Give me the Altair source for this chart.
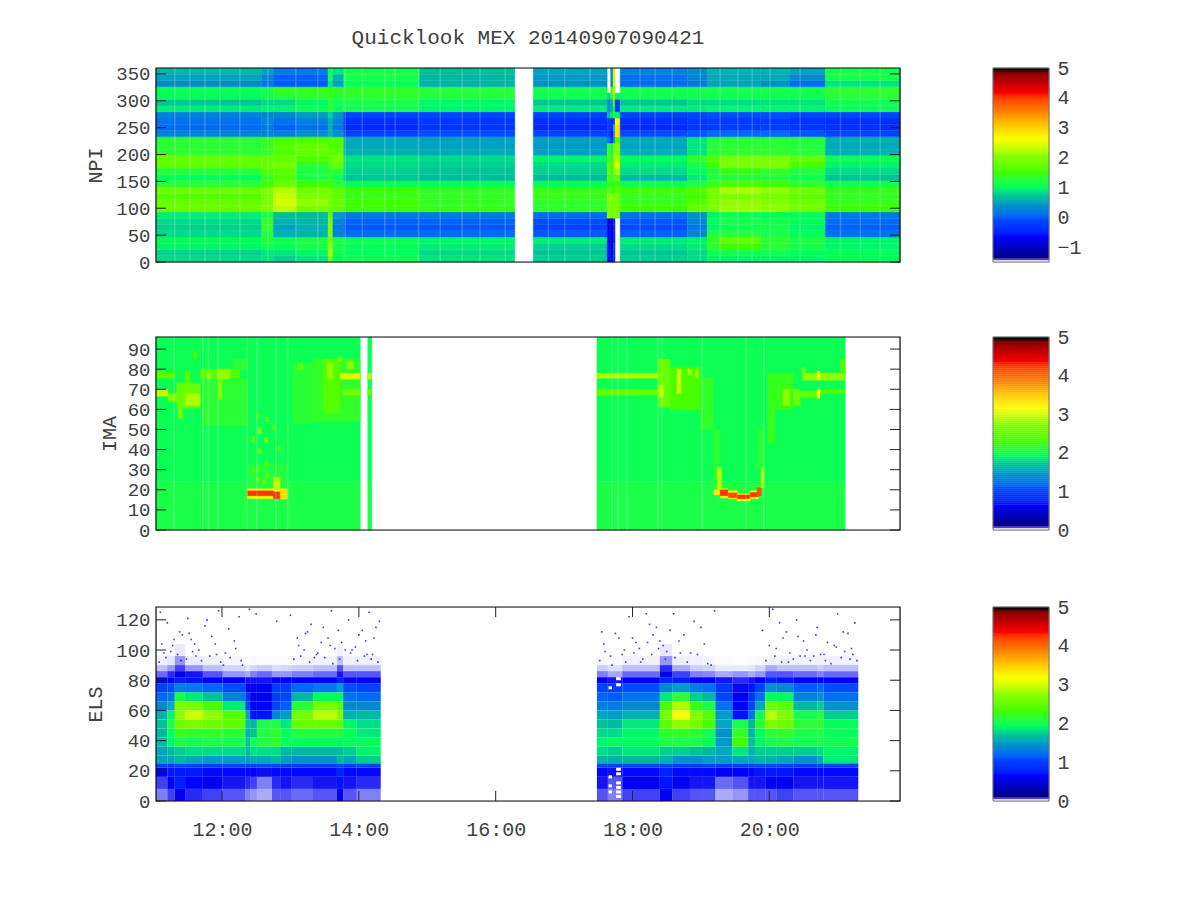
import altair as alt
import pandas as pd

FONT = "Liberation Mono"
TXT = "#404040"

# colour palette (fraction of the colour bar, colour)
pal_t = [0, .014, .016, .028, .13, .216, .285, .337, .388, .458, .543, .638, .716, .784, .87, .974, .984, .986, 1]
pal_c = ["#ffffff", "#ffffff", "#00008c", "#00008c", "#0000ff", "#0046ff", "#008cc8", "#00be96", "#00ff5a",
         "#3cff00", "#82ff00", "#ffff00", "#ffbe00", "#ff7800", "#ff0000", "#8c0000", "#600000", "#000000", "#000000"]

# ---------- NPI ----------
npi_edges = [0, 11.6, 23.3, 34.9, 46.6, 58.2, 69.9, 81.5, 93.2, 104.8, 116.5, 128.1, 139.7, 151.4, 163.0, 174.7,
             186.3, 198.0, 209.6, 221.3, 232.9, 244.5, 256.2, 267.8, 279.5, 291.1, 302.8, 314.4, 326.1, 337.7, 349.4, 361]
N = None
# each column: (start hour, end hour, values from the top row to the bottom row)
npi_cols = [
 (11.035, 12.58, [.65,.5,.35,1.1,1.05,.75,.95,.25,.15,.1,.3,1.3,1.3,1.35,1.75,1.7,1.3,1.05,1.3,1.8,1.6,1.75,1.8,.95,.85,.8,.85,1.05,1.0,.8,.85]),
 (12.58, 12.75, [.5,.3,.2,1.15,1.1,.85,1.0,.3,.3,.2,.3,1.4,1.4,1.4,1.75,1.8,1.6,1.4,1.5,1.95,1.9,1.95,2.0,1.2,1.4,1.4,1.2,1.3,1.1,.9,.9]),
 (12.75, 13.08, [.2,.05,.0,1.45,1.25,.85,1.0,.3,.15,.05,.3,1.55,1.65,1.6,1.75,1.9,1.7,1.6,1.8,2.25,2.35,2.4,2.3,.7,.6,.5,.6,1.1,1.05,.9,.8]),
 (13.08, 13.55, [.2,.05,.0,1.45,1.35,1.0,1.1,.45,.25,.15,.4,1.55,1.75,1.75,1.6,1.35,1.2,1.2,1.5,1.85,2.0,2.1,1.9,.7,.65,.6,.65,1.2,1.15,1.0,.9]),
 (13.55, 13.62, [1.1,1.1,.9,1.5,1.4,1.3,1.3,.8,.6,.6,.6,1.6,1.6,1.7,1.7,1.6,1.4,1.4,1.5,1.85,1.9,1.9,1.9,1.7,1.9,2.0,2.0,2.0,2.1,2.2,2.0]),
 (13.62, 13.78, [.9,.6,.5,1.4,1.3,1.1,1.1,.4,.3,.2,.4,1.6,1.6,1.7,1.9,1.8,1.3,1.1,1.3,1.7,1.7,1.75,1.75,.45,.3,.2,.3,1.2,1.15,1.1,1.05]),
 (13.78, 14.89, [1.15,1.15,1.05,1.4,1.35,1.15,1.15,-.15,-.35,-.4,-.1,.55,.55,.6,.9,.85,.8,.75,1.05,1.5,1.45,1.5,1.5,.2,.05,.0,.1,1.1,1.05,1.05,1.1]),
 (14.89, 16.28, [.7,.65,.6,1.3,1.25,1.0,1.0,-.1,-.25,-.3,-.05,.5,.5,.55,.85,.8,.75,.7,1.05,1.4,1.4,1.4,1.45,.2,.05,.0,.1,1.0,.95,.85,.9]),
 (16.55, 17.63, [.5,.45,.4,1.15,1.1,.75,.95,-.15,-.35,-.4,-.1,.5,.45,.5,1.0,.85,.8,.7,1.05,1.45,1.45,1.35,1.4,.1,-.05,-.1,0,.95,.8,.75,.8]),
 (17.63, 17.68, [N,N,N,N,.8,.4,.4,.7,-.2,-.2,-.1,.1,1.4,1.5,1.6,1.7,1.8,1.6,1.5,1.7,2.0,2.0,2.0,2.0,-.8,-.8,-.7,-.7,-.6,-.6,-.6]),
 (17.68, 17.715, [.3,.3,.3,1.6,1.1,.5,.5,.9,-.5,-.5,-.6,-.4,1.0,1.0,1.2,1.5,1.3,1.2,1.1,1.3,2.0,1.9,1.9,1.9,-.9,-.9,-.9,-.9,-.9,-.8,-.8]),
 (17.715, 17.745, [2.3,2.3,2.3,2.2,2.4,1.8,1.2,1.2,-.2,.6,.4,.4,2,2,2,2,2,1.8,1.5,1.6,2,2,2,2,-.4,-.4,-.4,-.4,-.2,-.2,-.2]),
 (17.745, 17.82, [N,N,N,N,1.0,-.3,-.3,1.0,2.7,2.9,2.9,1.6,2.0,2.0,2.3,2.5,2.2,1.7,1.5,1.6,1.9,1.9,1.9,1.9,N,N,N,N,N,N,N]),
 (17.82, 18.80, [.25,.15,.1,1.15,1.1,.75,.95,-.15,-.35,-.4,-.05,.55,.5,.6,1.05,.95,.85,.7,1.1,1.5,1.4,1.45,1.5,.15,-.0,-.05,.05,.95,.85,.75,.8]),
 (18.80, 19.09, [.35,.3,.2,1.15,1.1,.85,.95,-.1,-.25,-.3,0,.9,.9,.9,1.35,1.15,1.05,.95,1.2,1.6,1.5,1.65,1.75,.4,.3,.2,.3,1.0,.95,.85,.85]),
 (19.09, 19.28, [.6,.55,.5,1.15,1.1,.85,1.0,-.05,-.2,-.2,.1,1.25,1.25,1.3,1.6,1.5,1.25,1.2,1.45,1.95,1.9,1.95,2.0,1.0,1.05,1.0,1.25,1.4,1.35,1.1,1.0]),
 (19.28, 19.87, [.6,.55,.5,1.15,1.1,.85,1.0,-.05,-.2,-.2,.1,1.3,1.3,1.35,1.95,1.95,1.45,1.25,1.6,2.2,1.95,2.1,2.15,1.1,1.15,1.1,1.3,1.75,1.5,1.1,1.0]),
 (19.87, 20.30, [.6,.55,.4,1.15,1.1,.9,1.0,-.05,-.2,-.2,.1,1.3,1.3,1.35,1.95,1.95,1.4,1.25,1.5,2.1,1.9,2.05,2.1,1.05,1.15,1.15,1.15,1.35,1.3,1.1,1.0]),
 (20.30, 20.82, [.5,.35,.1,1.15,1.1,.9,1.0,-.1,-.3,-.3,0,1.25,1.25,1.3,1.75,1.55,1.25,1.1,1.35,1.85,1.7,1.85,1.9,1.05,1.05,1.0,1.05,1.2,1.15,1.05,1.0]),
 (20.82, 21.91, [1.15,1.15,.9,1.35,1.3,1.1,1.1,-.1,-.35,-.35,-.1,.6,.55,.6,1.1,1.0,.85,.75,1.1,1.45,1.4,1.45,1.5,.2,.1,.05,.15,1.0,1.0,1.05,1.05]),
]
# paler sweeps that run through all the rows
npi_stripes = [11.31,11.53,11.75,11.97,12.26,12.67,13.08,13.40,13.80,14.05,14.38,14.53,14.87,15.19,15.51,15.77,16.14,
               16.77,17.01,17.38,18.11,18.33,18.58,18.99,19.28,19.54,19.75,20.01,20.45,21.04,21.33,21.62]

# ---------- IMA ----------
# (start hour, end hour, low bin, high bin, value), later rows paint over earlier ones
ima_cells = [
 (11.035,14.02,0,24,2.05),(11.035,14.02,24,96,1.98),(14.13,14.19,0,24,2.05),(14.13,14.19,24,96,1.98),
 (17.48,21.11,0,24,2.05),(17.48,21.11,24,96,1.98),
 # left washes
 (11.71,12.37,52,75,2.15),(12.16,12.37,80,85,2.15),(13.04,13.33,53,83,2.15),(13.33,14.02,54,85,2.2),
 (13.48,13.73,58,85,2.4),
 # left bands
 (11.035,11.31,75.5,79,2.4),(11.035,11.21,66.5,70,2.9),(11.21,11.34,64,68,2.7),
 (11.34,11.68,60.5,73,2.5),(11.46,11.68,62,68,2.85),(11.36,11.42,55.5,60.5,2.6),
 (11.46,11.53,72,79,2.45),(11.58,11.63,85,89,2.35),(11.68,12.26,75.5,80,2.4),
 (11.78,11.85,75,78,2.7),(11.93,12.12,75,80,2.75),(11.94,12.0,65,75,2.65),
 (13.11,13.18,80,83,2.55),(13.54,13.62,75,83,2.75),(13.70,13.75,84,86,2.8),(13.83,13.92,80,84,2.75),
 (13.73,14.02,75,78,3.0),(13.77,14.02,67,70,2.6),(14.13,14.19,75,78,2.9),(14.13,14.19,67,70,2.55),
 # left arc
 (12.37,12.95,20,33,2.1),(12.37,12.95,15.5,20.5,3.1),(12.75,12.85,20,26,2.9),
 (12.37,12.75,17,19.5,4.25),(12.75,12.85,15.5,19,4.25),(12.85,12.95,15.5,20,3.4),
 # left speckle
 (12.53,12.57,48,51,2.8),(12.62,12.67,43.5,46,2.7),(12.44,12.48,44,46.5,2.6),(12.64,12.68,54,56,2.6),
 (12.5,12.54,56,58,2.4),(12.73,12.78,50,52,2.5),(12.53,12.57,38,40.5,2.6),(12.82,12.86,39.5,41.5,2.4),
 (12.62,12.67,32,34,2.4),(12.53,12.57,29,31,2.4),(12.44,12.48,28,30,2.35),(12.64,12.68,26,28,2.6),
 (12.5,12.54,24,26,2.5),(12.6,12.64,23,25,2.6),
 # right washes
 (18.55,18.99,60,81,2.35),(18.99,19.18,50,76,2.2),(19.18,19.28,20,50,2.15),(19.82,19.92,31,50,2.15),
 (19.98,20.08,43,78,2.25),(20.08,20.35,60,78,2.25),
 # right bands
 (17.48,18.43,75.5,78,2.85),(17.48,18.37,67,70,2.5),(18.37,18.55,61,85,2.5),(18.39,18.45,66,72,2.95),
 (18.65,18.71,68,80,2.95),(18.81,18.87,77,80,2.8),(18.92,18.96,76,80,2.8),
 (20.20,20.30,62,70,2.75),(20.35,20.45,62,70,2.55),(20.48,20.52,78,81,2.7),(20.45,20.70,66,69,2.5),
 (20.49,21.11,74.5,78,2.75),(20.74,21.11,68,70,2.4),(21.04,21.11,78,85,2.4),
 (20.70,20.74,75,79,3.3),(20.70,20.74,65.5,70,3.2),
 # right arc
 (19.24,19.30,20,31,2.9),(19.19,19.28,17.5,20,3.3),(19.28,19.40,16,20.5,3.2),(19.28,19.40,17,20,4.25),
 (19.40,19.53,15.5,19.5,3.2),(19.40,19.53,16,18.5,4.15),(19.53,19.72,14.5,18,3.2),(19.53,19.72,15.5,17.5,4.25),
 (19.72,19.84,15.5,19.5,3.2),(19.72,19.84,16.5,18.7,4.25),(19.82,19.88,17,21,4.15),(19.88,19.92,21,31,2.9),
]
ima_stripes = [11.30,11.72,11.80,11.94,12.37,12.51,12.79,12.96,17.70,17.79,17.92,18.37,18.43,19.02,19.66,19.92]

# ---------- ELS ----------
els_edges = [0, 8, 16, 22, 25, 30, 36, 42, 48, 54, 60, 66, 72, 78, 82, 86, 90, 96, 104, 128]
# each column: (start hour, end hour, values from the lowest bin to the highest bin)
els_cols = [
 (11.035,11.20,[.2,.3,.5,.85,1.2,1.5,1.65,1.65,1.55,1.4,1.25,1.05,.85,.65,.35,.15,.03,.0,.0]),
 (11.20,11.31,[.35,.45,.6,.8,1.2,1.6,1.9,1.95,1.9,1.7,1.4,1.15,.9,.65,.5,.25,.06,.0,.0]),
 (11.31,11.46,[.5,.6,.6,.9,1.3,1.7,2.05,2.25,2.4,2.55,2.5,1.9,1.15,.75,.6,.45,.25,.05,.0]),
 (11.46,11.72,[.4,.5,.6,.85,1.2,1.75,2.0,2.2,2.5,2.75,2.5,1.7,1.1,.7,.55,.25,.05,.0,.0]),
 (11.72,12.01,[.35,.45,.55,.8,1.15,1.75,2.05,2.2,2.4,2.55,2.2,1.55,1.0,.65,.4,.15,.03,.0,.0]),
 (12.01,12.34,[.3,.4,.55,.8,1.15,1.75,2.0,2.15,2.3,2.2,1.7,1.2,.9,.6,.25,.1,.02,.0,.0]),
 (12.34,12.41,[.2,.35,.55,.85,1.15,1.6,1.7,1.6,1.55,1.35,.9,.75,.65,.55,.2,.06,.01,.0,.0]),
 (12.41,12.51,[.15,.3,.5,.85,1.2,1.75,1.95,1.7,1.5,.7,.65,.62,.6,.55,.3,.1,.015,.0,.0]),
 (12.51,12.73,[.1,.15,.45,.9,1.2,1.75,2.1,2.1,1.9,.7,.65,.62,.6,.55,.35,.12,.01,.0,.0]),
 (12.73,12.85,[.3,.35,.55,.85,1.3,1.75,2.2,2.2,1.9,1.2,.9,.85,.8,.6,.25,.08,.01,.0,.0]),
 (12.85,13.02,[.3,.4,.55,.8,1.15,1.6,1.95,1.95,1.7,1.3,1.0,.9,.8,.6,.25,.1,.015,.0,.0]),
 (13.02,13.33,[.25,.35,.55,.8,1.1,1.6,1.95,2.1,2.35,2.4,2.0,1.5,1.0,.65,.3,.12,.02,.0,.0]),
 (13.33,13.68,[.3,.4,.55,.8,1.1,1.6,1.95,2.1,2.4,2.7,2.5,1.8,1.1,.65,.35,.15,.03,.0,.0]),
 (13.68,13.77,[.5,.55,.65,.9,1.3,1.65,1.9,2.1,2.3,2.5,2.3,1.8,1.3,.8,.55,.4,.15,.03,.0]),
 (13.77,13.97,[.3,.4,.55,.8,1.2,1.7,1.95,1.95,1.75,1.4,1.25,1.1,.9,.65,.4,.15,.03,.0,.0]),
 (13.97,14.32,[.2,.35,.55,.85,1.4,1.85,1.95,1.85,1.65,1.45,1.25,1.05,.85,.65,.4,.15,.04,.0,.0]),
 (17.48,17.64,[.3,.4,.55,.9,1.3,1.75,1.9,1.8,1.55,1.35,1.2,1.05,.85,.65,.3,.12,.02,.0,.0]),
 (17.64,17.85,[.2,.25,.45,.8,1.25,1.7,1.95,1.8,1.5,1.3,1.15,1.0,.8,.55,.2,.08,.015,.0,.0]),
 (17.85,18.40,[.35,.45,.55,.85,1.3,1.8,1.95,1.9,1.7,1.4,1.25,1.1,.9,.65,.35,.15,.03,.0,.0]),
 (18.40,18.58,[.5,.55,.65,.85,1.25,1.7,2.05,2.2,2.3,2.4,2.2,1.7,1.2,.8,.6,.5,.25,.05,.0]),
 (18.58,18.84,[.35,.45,.55,.8,1.1,1.7,2.05,2.2,2.6,2.95,2.7,2.0,1.3,.75,.45,.2,.04,.0,.0]),
 (18.84,19.03,[.3,.4,.55,.8,1.1,1.65,2.05,2.15,2.45,2.5,2.1,1.6,1.1,.65,.3,.12,.03,.0,.0]),
 (19.03,19.21,[.3,.4,.55,.85,1.15,1.6,1.95,2.0,2.2,2.2,1.9,1.5,1.05,.65,.28,.1,.02,.0,.0]),
 (19.21,19.46,[.1,.2,.5,.8,1.15,1.5,1.5,1.45,1.4,1.3,1.1,.9,.75,.55,.2,.05,.01,.0,.0]),
 (19.46,19.69,[.15,.25,.5,.85,1.2,1.8,2.3,2.2,1.9,.7,.65,.62,.58,.5,.25,.05,.005,.0,.0]),
 (19.69,19.79,[.3,.4,.55,.85,1.2,1.55,1.7,1.6,1.5,1.05,.85,.75,.7,.55,.2,.06,.01,.0,.0]),
 (19.79,19.94,[.3,.4,.6,.9,1.3,1.7,1.9,1.95,2.0,1.8,1.4,1.1,.85,.6,.25,.1,.015,.0,.0]),
 (19.94,20.11,[.3,.45,.6,.85,1.25,1.7,2.0,2.15,2.5,2.7,2.4,1.8,1.25,.75,.4,.2,.03,.0,.0]),
 (20.11,20.35,[.35,.45,.6,.85,1.2,1.7,2.05,2.2,2.4,2.5,2.3,1.8,1.2,.7,.4,.15,.03,.0,.0]),
 (20.35,20.70,[.3,.4,.55,.8,1.1,1.7,2.0,2.05,2.0,1.8,1.5,1.2,.95,.65,.35,.15,.03,.0,.0]),
 (20.70,20.79,[.3,.4,.55,.85,1.2,1.75,2.05,2.05,2.05,1.95,1.6,1.3,1.0,.65,.3,.12,.03,.0,.0]),
 (20.79,21.30,[.3,.4,.55,.85,1.5,1.85,2.0,1.95,1.8,1.55,1.3,1.1,.9,.65,.35,.15,.03,.0,.0]),
]
# per-bin correction after comparing the colours of the first reading with the picture
els_bin_fix = [.1, .15, .12, .15, .35, .05, 0, 0, .15, .2, .15, .15, .2, 0, 0, 0, 0, 0, 0]
els_dots_t = [11.1,11.2,11.3,11.38,11.5,11.6,11.75,11.85,11.95,12.1,12.25,12.4,12.5,12.8,13.0,13.1,13.3,13.45,13.6,13.7,13.85,14.0,14.15,14.25,
              11.15,11.42,11.66,11.9,12.05,12.2,13.2,13.4,13.55,13.8,13.95,14.1,11.25,11.55,13.25,13.65,14.2,
              11.08,11.18,11.28,11.35,11.48,11.57,11.7,11.82,11.98,12.12,12.28,13.05,13.15,13.28,13.38,13.5,13.58,13.72,13.88,13.98,14.08,14.18,14.28,
              11.12,11.4,11.52,11.62,11.78,11.92,12.02,12.18,12.3,13.12,13.22,13.35,13.48,13.62,13.75,13.9,14.05,14.12,14.22,14.3,
              17.55,17.7,17.8,17.95,18.1,18.25,18.4,18.5,18.6,18.75,18.9,19.05,19.2,19.9,20.05,20.2,20.4,20.55,20.7,20.85,21.0,21.15,21.25,
              17.6,17.85,18.05,18.3,18.45,18.7,19.0,20.1,20.3,20.5,20.65,20.95,21.1,18.2,18.55,20.25,20.8,21.2,
              17.52,17.68,17.9,18.02,18.15,18.28,18.38,18.62,18.8,18.95,19.1,19.95,20.08,20.18,20.35,20.45,20.6,20.75,20.9,21.05,21.18,21.28,
              17.58,17.75,17.88,18.0,18.12,18.22,18.35,18.48,18.68,18.85,19.15,20.0,20.15,20.28,20.42,20.52,20.68,20.82,20.98,21.08,21.22]
els_dots_y = [125,118,107,112,121,104,116,109,126,114,122,127,124,119,123,108,117,105,126,113,120,110,125,115,
              98,110,100,104,98,101,100,98,108,100,102,106,99,107,112,101,97,
              92,95,103,97,94,99,93,96,92,95,93,94,96,92,97,95,103,94,98,93,96,94,92,
              104,93,111,96,120,97,90,106,90,103,111,95,115,91,105,100,113,97,108,119,
              112,90,108,122,101,117,106,99,124,110,119,104,126,113,127,108,120,100,115,105,124,111,118,
              99,97,105,110,103,98,115,101,98,106,96,103,99,124,113,112,97,101,
              93,96,92,98,94,97,101,95,92,97,91,93,96,92,94,96,93,97,91,95,94,93,
              104,111,100,108,92,105,115,94,106,98,90,103,118,92,109,96,110,93,102,112,97]
# white gaps in the densest columns (start hour, end hour, low bin, high bin)
els_gaps = [(17.76,17.83,80,82),(17.76,17.83,76,78),(17.76,17.83,20,22),(17.76,17.83,17,19),(17.76,17.83,11,13),
            (17.76,17.83,8,10),(17.76,17.83,5,7),(17.76,17.83,2,4),(17.65,17.70,74,76),(17.65,17.70,15,17),
            (17.65,17.70,9,11),(17.65,17.70,5,7)]

x_domain = [11.035, 21.91]
hour_ticks = [12, 14, 16, 18, 20]
npi_ticks = [0, 50, 100, 150, 200, 250, 300, 350]
ima_ticks = [0, 10, 20, 30, 40, 50, 60, 70, 80, 90]
els_ticks = [0, 20, 40, 60, 80, 100, 120]
npi_bar = [-1, 0, 1, 2, 3, 4, 5]
ima_bar = [0, 1, 2, 3, 4, 5]
els_bar = [0, 1, 2, 3, 4, 5]
bar_steps = 97   # colour steps in each colour bar


def from_cols(cols, edges, reverse, fix=None):
    rows = []
    for t0, t1, vals in cols:
        seq = list(reversed(vals)) if reverse else vals
        for i, v in enumerate(seq):
            if v is not None:
                if fix is not None and (v >= .75 or i < 3):
                    v = v + fix[i]
                rows.append(dict(t0=t0, t1=t1, y0=edges[i], y1=edges[i + 1], v=v))
    return pd.DataFrame(rows)


def panel(df, name, ymax, ticks, bar, vmin, height, title_x, show_time=False, title=None, dots=None, gaps=None,
          stripes=None):
    domain = [vmin + t * (5 - vmin) for t in pal_t]
    cscale = alt.Scale(domain=domain, range=pal_c, clamp=True)
    xs = alt.Scale(domain=x_domain, nice=False, zero=False)
    ys = alt.Scale(domain=[0, ymax], nice=False, zero=False)
    xaxis = alt.Axis(values=hour_ticks, title=None, ticks=False, domain=False, grid=False,
                     labelExpr="format(datum.value,'02d')+':00'", labelFont=FONT, labelFontSize=20,
                     labelColor=TXT, labelPadding=18, labelFontWeight="normal") if show_time else None
    yaxis = alt.Axis(values=ticks, title=name, ticks=False, domain=False, grid=False, labelFont=FONT,
                     labelFontSize=19, labelColor=TXT, labelPadding=6, titleFont=FONT, titleFontSize=20,
                     titleFontWeight="normal", titleColor=TXT, titleX=title_x, titleY=height * 0.5,
                     minExtent=50, maxExtent=50)

    def X(f):
        return alt.X(f, scale=xs, axis=xaxis)

    def Y(f):
        return alt.Y(f, scale=ys, axis=yaxis)

    df = df.copy()
    enc = dict(x=X("t0:Q"), x2="t1:Q", y=Y("y0:Q"), y2="y1:Q",
               color=alt.Color("v:Q", scale=cscale, legend=None))
    if "o" in df:
        enc["opacity"] = alt.Opacity("o:Q", scale=None, legend=None)
    else:
        enc["stroke"] = alt.Stroke("v:Q", scale=cscale, legend=None)
    rects = alt.Chart(df).mark_rect(strokeWidth=0.4).encode(**enc)
    tk = pd.DataFrame({"y": ticks})
    left = alt.Chart(tk).mark_rule(color="#222", strokeWidth=1).encode(y=Y("y:Q"), x=alt.value(0), x2=alt.value(10))
    right = alt.Chart(tk).mark_rule(color="#222", strokeWidth=1).encode(y=Y("y:Q"), x=alt.value(744), x2=alt.value(734))
    fr = pd.DataFrame({"a": [x_domain[0]], "b": [x_domain[1]], "c0": [0], "c1": [ymax]})
    frame = alt.Chart(fr).mark_rect(filled=False, stroke="#111", strokeWidth=1.2).encode(
        x=X("a:Q"), x2="b:Q", y=Y("c0:Q"), y2="c1:Q")
    layers = [rects]
    if stripes is not None:
        layers.append(alt.Chart(pd.DataFrame({"t": stripes})).mark_rule(color="white", opacity=0.2, strokeWidth=1.5)
                      .encode(x=X("t:Q")))
    if gaps is not None:
        layers.append(alt.Chart(gaps).mark_rect(color="white").encode(x=X("t0:Q"), x2="t1:Q", y=Y("y0:Q"), y2="y1:Q"))
    if dots is not None:
        layers.append(alt.Chart(dots).mark_square(size=2.6, color="#1818ff", opacity=0.85).encode(x=X("t:Q"), y=Y("y:Q")))
    layers += [left, right, frame]
    if show_time:
        tx = pd.DataFrame({"x": hour_ticks})
        layers += [
            alt.Chart(tx).mark_rule(color="#222", strokeWidth=1).encode(x=X("x:Q"), y=alt.value(0), y2=alt.value(10)),
            alt.Chart(tx).mark_rule(color="#222", strokeWidth=1).encode(x=X("x:Q"), y=alt.value(height), y2=alt.value(height - 10)),
        ]
    props = dict(width=744, height=height)
    if title:
        props["title"] = alt.TitleParams(title, anchor="middle", font=FONT, fontSize=21, fontWeight="normal",
                                         color=TXT, offset=17)
    main = alt.layer(*layers).properties(**props)

    # colour bar
    step = (5 - vmin) / bar_steps
    levels = pd.DataFrame([dict(a=vmin + i * step, b=vmin + (i + 1) * step, v=vmin + (i + 0.5) * step)
                           for i in range(bar_steps)])
    bs = alt.Scale(domain=[vmin, 5], nice=False, zero=False)
    baxis = alt.Axis(values=bar, orient="right", title=None, ticks=False, domain=False, grid=False, labelFont=FONT,
                     labelFontSize=20, labelColor=TXT, labelPadding=8, labelFlush=False, labelOverlap=False)
    cb = alt.Chart(levels).mark_rect(strokeWidth=0.4).encode(
        y=alt.Y("a:Q", scale=bs, axis=baxis), y2="b:Q",
        color=alt.Color("v:Q", scale=cscale, legend=None),
        stroke=alt.Stroke("v:Q", scale=cscale, legend=None),
    ).properties(width=56, height=height)
    edge = alt.Chart(pd.DataFrame({"a": [vmin], "b": [5]})).mark_rect(filled=False, stroke="#777", strokeWidth=1).encode(
        y=alt.Y("a:Q", scale=bs, axis=baxis), y2="b:Q").properties(width=56, height=height)
    return alt.hconcat(main, alt.layer(cb, edge), spacing=90).resolve_scale(color="independent", stroke="independent")


npi_df = from_cols(npi_cols, npi_edges, True)
ima_df = pd.DataFrame(ima_cells, columns=["t0", "t1", "y0", "y1", "v"])
els_df = from_cols(els_cols, els_edges, False, els_bin_fix)
# thin populations: below the level of saturated blue the value is drawn as a density of blue specks
els_df["o"] = (els_df["v"] / 0.6).clip(upper=1)
els_df["v"] = els_df["v"].clip(lower=0.6)
els_df = els_df[els_df["o"] > 0]
dots = pd.DataFrame({"t": els_dots_t, "y": els_dots_y})
gaps = pd.DataFrame(els_gaps, columns=["t0", "t1", "y0", "y1"])

p1 = panel(npi_df, "NPI", 361, npi_ticks, npi_bar, -1.47, 194, -51, title="Quicklook MEX 20140907090421",
           stripes=[h for h in npi_stripes])
p2 = panel(ima_df, "IMA", 96, ima_ticks, ima_bar, 0, 193, -37, stripes=ima_stripes)
p3 = panel(els_df, "ELS", 128.5, els_ticks, els_bar, 0, 194, -51, show_time=True, dots=dots, gaps=gaps)

top = alt.vconcat(p1, p2, spacing=53).resolve_scale(color="independent", stroke="independent")
chart = alt.vconcat(top, p3, spacing=55).resolve_scale(color="independent", stroke="independent").properties(
    padding={"left": 76, "top": 18, "right": 5, "bottom": 5}
).configure_view(stroke=None).configure(background="white")

chart.save("out.html", embed_options={"renderer": "svg", "actions": False})
